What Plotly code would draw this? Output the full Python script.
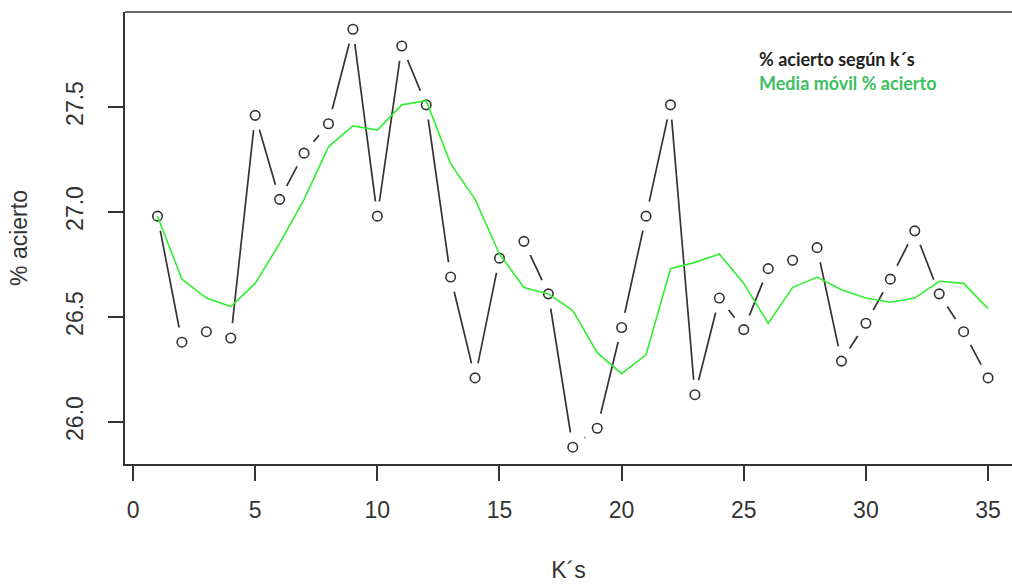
import plotly.graph_objects as go

k = list(range(1, 36))
acierto = [26.98, 26.38, 26.43, 26.40, 27.46, 27.06, 27.28, 27.42, 27.87, 26.98,
           27.79, 27.51, 26.69, 26.21, 26.78, 26.86, 26.61, 25.88, 25.97, 26.45,
           26.98, 27.51, 26.13, 26.59, 26.44, 26.73, 26.77, 26.83, 26.29, 26.47,
           26.68, 26.91, 26.61, 26.43, 26.21]
media_movil = [26.98, 26.68, 26.59, 26.55, 26.66, 26.85, 27.06, 27.31, 27.41, 27.39,
               27.51, 27.53, 27.23, 27.06, 26.80, 26.64, 26.61, 26.53, 26.33, 26.23,
               26.32, 26.73, 26.76, 26.80, 26.66, 26.47, 26.64, 26.69, 26.63, 26.59,
               26.57, 26.59, 26.67, 26.66, 26.54]
x_ticks = [0, 5, 10, 15, 20, 25, 30, 35]
y_ticks = [26.0, 26.5, 27.0, 27.5]

dark = "#333333"
font_family = "Liberation Sans, Arial, sans-serif"

fig = go.Figure()
# black line
fig.add_trace(go.Scatter(x=k, y=acierto, mode="lines",
                         line=dict(color=dark, width=1.7), hoverinfo="skip"))
# white gaps around points (R type = "b")
fig.add_trace(go.Scatter(x=k, y=acierto, mode="markers",
                         marker=dict(color="white", size=30, line=dict(width=0)),
                         hoverinfo="skip"))
# open circles
fig.add_trace(go.Scatter(x=k, y=acierto, mode="markers",
                         marker=dict(symbol="circle", color="white", size=9.5,
                                     line=dict(color=dark, width=1.6))))
# moving average
fig.add_trace(go.Scatter(x=k, y=media_movil, mode="lines",
                         line=dict(color="#33ee33", width=1.6)))

axis_common = dict(showgrid=False, zeroline=False, showline=True, linecolor=dark,
                   linewidth=1.5, ticks="outside", ticklen=15, tickwidth=1.5,
                   tickcolor=dark, tickfont=dict(family=font_family, size=23, color=dark))

fig.update_xaxes(range=[-0.33, 35.98], tickvals=x_ticks, ticktext=[str(v) for v in x_ticks],
                 title=dict(text="K´s", font=dict(family=font_family, size=23, color=dark),
                            standoff=40),
                 ticklabelstandoff=10, **axis_common)
fig.update_yaxes(range=[25.8, 27.952], tickvals=y_ticks, ticktext=[f"{v:.1f}" for v in y_ticks],
                 tickangle=-90,
                 title=dict(text="% acierto", font=dict(family=font_family, size=23, color=dark),
                            standoff=28),
                 ticklabelstandoff=16, **axis_common)

# top border of the box (right side is cropped in the reference)
fig.add_shape(type="line", xref="paper", yref="paper", x0=0, x1=1.02, y0=1, y1=1,
              line=dict(color=dark, width=1.5))

fig.add_annotation(xref="paper", yref="paper", x=(757 - 125) / 887, y=(464 - 59) / 452,
                   xanchor="left", yanchor="middle", showarrow=False,
                   text="<b>% acierto según k´s</b>",
                   font=dict(family="Lato, sans-serif", size=18, color="#222222"))
fig.add_annotation(xref="paper", yref="paper", x=(757 - 125) / 887, y=(464 - 83) / 452,
                   xanchor="left", yanchor="middle", showarrow=False,
                   text="<b>Media móvil % acierto</b>",
                   font=dict(family="Lato, sans-serif", size=18, color="#3cc060"))

fig.update_layout(width=1012, height=587, margin=dict(l=125, r=0, t=12, b=123),
                  paper_bgcolor="white", plot_bgcolor="white", showlegend=False)

fig.write_html("out.html")
